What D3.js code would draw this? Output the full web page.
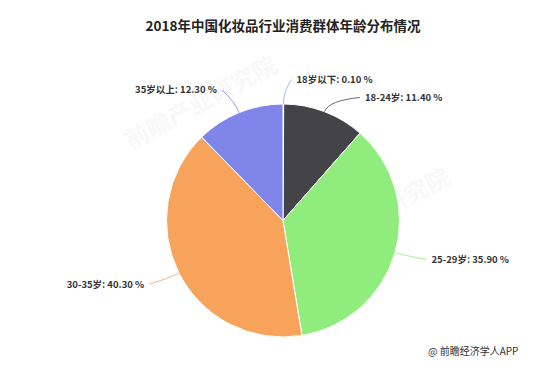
<!DOCTYPE html>
<html><head><meta charset="utf-8">
<script src="https://cdn.jsdelivr.net/npm/d3@7/dist/d3.min.js"></script>
<style>
html,body{margin:0;padding:0;background:#fff;}
svg{display:block;font-family:"Noto Sans CJK SC","Microsoft YaHei",sans-serif;}
</style></head>
<body><svg id="c" width="558" height="367"></svg>
<script>
const title = "2018年中国化妆品行业消费群体年龄分布情况";
const categories = ["18岁以下", "18-24岁", "25-29岁", "30-35岁", "35岁以上"];
const values = [0.10, 11.40, 35.90, 40.30, 12.30];
const colors = ["#7cb5ec", "#434348", "#90ed7d", "#f7a35c", "#8085e9"];
const footer = "@ 前瞻经济学人APP";
const watermark = "前瞻产业研究院";

const W = 558, H = 367;
const cx = 283, cy = 220.5, r = 116.5;
const svg = d3.select("#c");

// watermarks
[[205, 110], [378, 222]].forEach(([x, y]) => {
  svg.append("text").attr("x", x).attr("y", y)
    .attr("transform", `rotate(-28,${x},${y})`)
    .attr("text-anchor", "middle").attr("font-size", 24).attr("font-weight", "bold")
    .attr("fill", "#000").attr("opacity", 0.025).text(watermark);
});

svg.append("text").attr("x", cx).attr("y", 27).attr("text-anchor", "middle")
  .attr("dominant-baseline", "middle")
  .attr("font-size", 13.5).attr("font-weight", "bold").attr("fill", "#222").text(title);

const data = categories.map((c, i) => ({ name: c, value: values[i], color: colors[i] }));
const pie = d3.pie().value(d => d.value).sort(null);
const arcs = pie(data);
const arc = d3.arc().innerRadius(0).outerRadius(r);

const g = svg.append("g").attr("transform", `translate(${cx},${cy})`);
g.selectAll("path.slice").data(arcs).join("path").attr("class", "slice")
  .attr("d", arc).attr("fill", d => d.data.color)
  .attr("stroke", "#fff").attr("stroke-width", 1);

// label layout (Highcharts-like)
const labelR = r + 24.5;
const labs = arcs.map(a => {
  const m = (a.startAngle + a.endAngle) / 2;
  return { a, m, right: Math.sin(m) >= 0, y: -labelR * Math.cos(m) };
});
["right", "left"].forEach(side => {
  const s = labs.filter(l => (side === "right") === l.right).sort((p, q) => p.y - q.y);
  for (let i = 1; i < s.length; i++) if (s[i].y < s[i - 1].y + 18) s[i].y = s[i - 1].y + 18;
});
labs.forEach(l => {
  const dx = Math.sqrt(Math.max(0, labelR * labelR - l.y * l.y));
  const sgn = l.right ? 1 : -1;
  const ex = sgn * (dx + 8), tx = sgn * (dx + 13);
  const sx = r * Math.sin(l.m), sy = -r * Math.cos(l.m);
  const qx = (r + 12) * Math.sin(l.m), qy = -(r + 12) * Math.cos(l.m);
  g.append("path").attr("d", `M${sx},${sy}Q${qx},${qy} ${ex},${l.y}`)
    .attr("fill", "none").attr("stroke", l.a.data.color).attr("stroke-width", 1).attr("opacity", 0.8);
  g.append("text").attr("x", tx).attr("y", l.y + 1)
    .attr("text-anchor", l.right ? "start" : "end").attr("dominant-baseline", "middle")
    .attr("font-size", 9.5).attr("font-weight", "bold").attr("fill", "#333")
    .text(`${l.a.data.name}: ${l.a.data.value.toFixed(2)} %`);
});

svg.append("text").attr("x", 428).attr("y", 355).attr("font-size", 10)
  .attr("fill", "#333").text(footer);
</script></body></html>
